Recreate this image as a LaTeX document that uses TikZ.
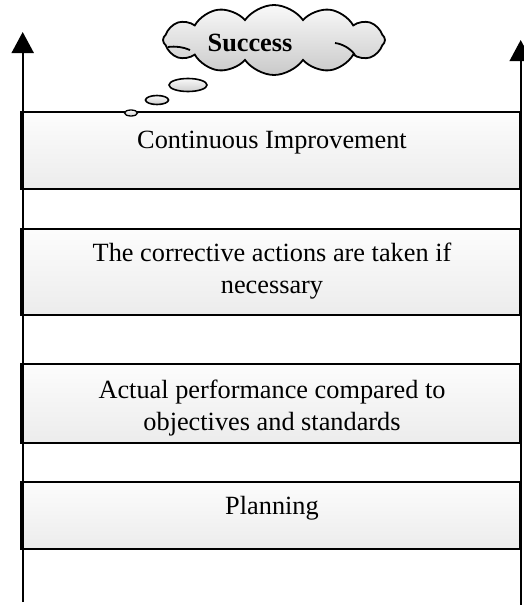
\documentclass[tikz,border=0pt]{standalone}
\usepackage{fontspec}
\setmainfont{Liberation Serif}
\usetikzlibrary{arrows.meta,shapes.symbols,shapes.geometric}
\begin{document}
\begin{tikzpicture}[x=1pt,y=-1pt,
  box/.style={draw=black,line width=2pt,top color=gray!2,bottom color=gray!15,minimum width=499pt,minimum height=#1,inner sep=0pt},
  lbl/.style={font=\fontsize{26.3}{32}\selectfont,align=center,inner sep=0pt},
  bubble/.style={ellipse,draw=black,line width=1.6pt,top color=gray!5,bottom color=gray!38,inner sep=0pt},
  axis/.style={line width=2pt,-{Triangle[length=21pt,width=22pt]}}]
\useasboundingbox (0,0) rectangle (523,605);
% boxes
\node[box=77pt] (b1) at (270.5,150.5) {};
\node[box=86pt] (b2) at (270.5,272) {};
\node[box=79pt] (b3) at (270.5,403.5) {};
\node[box=67pt] (b4) at (270.5,515.5) {};
% axes
\coordinate (lb) at (22.7,602);
\coordinate (lt) at (22.7,32);
\coordinate (rb) at (520.7,605);
\coordinate (rt) at (520.7,40);
\draw[axis] (lb) -- (lt);
\draw[axis] (rb) -- (rt);
% texts
\node[lbl] (t1) at (272,143) {Continuous Improvement};
\node[lbl] (t2) at (272,271.5) {The corrective actions are taken if\\necessary};
\node[lbl] (t3) at (272,408) {Actual performance compared to\\objectives and standards};
\node[lbl] (t4) at (272,508) {Planning};
% cloud
\node[cloud, cloud puffs=12, cloud puff arc=110, aspect=3.1, draw=black, line width=1.8pt,
  top color=gray!5, bottom color=gray!42, minimum width=222pt, minimum height=70pt, inner sep=0pt] (cl) at (274,40) {};
\draw[line width=1.8pt] (168,47) .. controls (176,46) and (183,47) .. (190,50);
\draw[line width=1.8pt] (335,43) .. controls (343,44) and (351,49) .. (355,55);
\node[lbl,font=\fontsize{26.3}{32}\selectfont\bfseries] (s) at (250,43) {Success};
% thought bubbles
\node[bubble,minimum width=38pt,minimum height=13pt] (e1) at (188,85) {};
\node[bubble,minimum width=23pt,minimum height=9pt] (e2) at (157,100) {};
\node[bubble,minimum width=13pt,minimum height=6pt,line width=1.3pt] (e3) at (131,113) {};
\end{tikzpicture}
\end{document}
